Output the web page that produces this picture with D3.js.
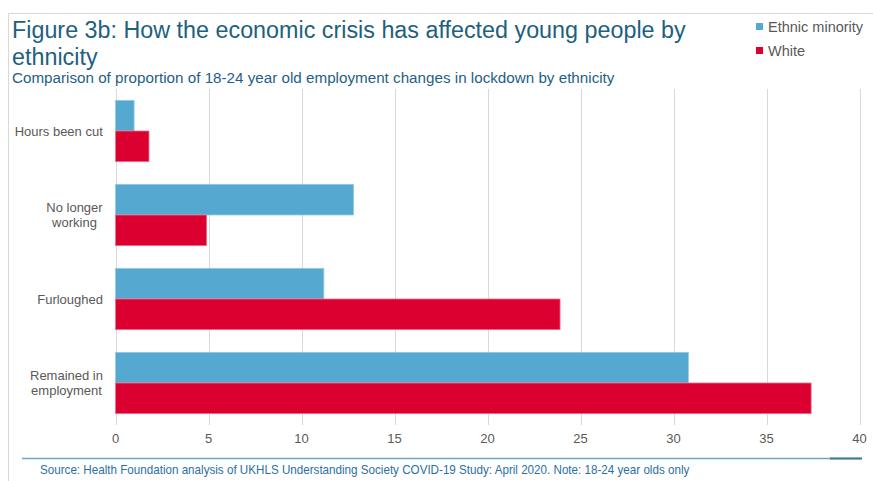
<!DOCTYPE html>
<html>
<head>
<meta charset="UTF-8">
<title>Figure 3b</title>
<style>
  body { margin: 0; background: #fff; }
  svg { display: block; }
  .narrow { font-family: "Liberation Sans", Arial, sans-serif; }
  .lab { font-family: "Liberation Sans", Arial, sans-serif; fill: #595959; }
</style>
</head>
<body>
<svg width="873" height="481"></svg>
<script src="https://cdn.jsdelivr.net/npm/d3@7"></script>
<script>
// data
const categories = ["Hours been cut", "No longer\nworking", "Furloughed", "Remained in\nemployment"];
const series = ["Ethnic minority", "White"];
const ethnicMinority = [1.0, 12.8, 11.2, 30.8];
const white = [1.8, 4.9, 23.9, 37.4];
const ticks = [0, 5, 10, 15, 20, 25, 30, 35, 40];
const colors = ["#55a8d0", "#dc0030"];

const svg = d3.select("svg");

// frame
svg.append("path").attr("d", "M8.5,481 V13.5 H873").attr("fill", "none")
  .attr("stroke", "#d9d9d9").attr("stroke-width", 1);

const x = d3.scaleLinear().domain([0, 40]).range([115.5, 859.5]);
const y = d3.scaleBand().domain(categories).range([89, 425])
  .paddingInner(0.27).paddingOuter(0.135);
const sub = d3.scaleBand().domain(series).range([0, y.bandwidth()]);

// grid
svg.append("g").selectAll("line").data(ticks).join("line")
  .attr("x1", d => Math.round(x(d)) + 0.5).attr("x2", d => Math.round(x(d)) + 0.5)
  .attr("y1", 89).attr("y2", 425)
  .attr("stroke", "#d9d9d9").attr("stroke-width", 1);

// bars
const rows = categories.map((c, i) => ({ c, vals: [ethnicMinority[i], white[i]] }));
svg.append("g").selectAll("g").data(rows).join("g")
  .attr("transform", d => `translate(0,${y(d.c)})`)
  .selectAll("rect").data(d => d.vals.map((v, j) => ({ v, s: series[j], j })))
  .join("rect")
  .attr("x", x(0))
  .attr("y", d => sub(d.s))
  .attr("width", d => x(d.v) - x(0))
  .attr("height", sub.bandwidth())
  .attr("fill", d => colors[d.j])
  .attr("stroke", d => d.j == 0 ? "#8fcbe6" : "#ee6f8a")
  .attr("stroke-width", 0.8);

// tick labels
svg.append("g").selectAll("text").data(ticks).join("text")
  .attr("class", "lab")
  .attr("x", d => x(d)).attr("y", 443)
  .attr("text-anchor", "middle").attr("font-size", 13)
  .text(d => d);

// category labels
const catG = svg.append("g");
categories.forEach(c => {
  const lines = c.split("\n");
  const cy = y(c) + y.bandwidth() / 2;
  const t = catG.append("text").attr("class", "lab").attr("font-size", 13)
    .attr("text-anchor", "middle");
  lines.forEach((l, i) => {
    t.append("tspan").attr("x", 0)
      .attr("y", cy + 4.5 + (i - (lines.length - 1) / 2) * 15)
      .text(l);
  });
  const w = t.node().getBBox().width;
  t.selectAll("tspan").attr("x", 103 - w / 2);
});

// condensed text, like Arial Narrow: squeeze glyphs horizontally to a target width
function narrowText(x0, y0, size, color, str, width, sx) {
  const t = svg.append("text").attr("class", "narrow")
    .attr("font-size", size).attr("fill", color).text(str);
  if (width) sx = width / t.node().getComputedTextLength();
  t.attr("transform", `translate(${x0},${y0}) scale(${sx},1)`);
  return sx;
}

// title
const tsx = narrowText(12, 38, 24, "#215f7f", "Figure 3b: How the economic crisis has affected young people by", 674);
narrowText(12, 65, 24, "#215f7f", "ethnicity", null, tsx);
narrowText(12, 83, 15, "#1f5f86", "Comparison of proportion of 18-24 year old employment changes in lockdown by ethnicity", 603);

// legend
const leg = svg.append("g");
series.forEach((s, i) => {
  leg.append("rect").attr("x", 756).attr("y", 23 + i * 24).attr("width", 7).attr("height", 7)
    .attr("fill", colors[i]);
  leg.append("text").attr("class", "lab").attr("x", 768).attr("y", 32 + i * 24)
    .attr("font-size", 14.5).text(s);
});

// bottom rule and source
svg.append("line").attr("x1", 22).attr("x2", 862).attr("y1", 458.5).attr("y2", 458.5)
  .attr("stroke", "#6ea6c0").attr("stroke-width", 1.5);
svg.append("line").attr("x1", 830).attr("x2", 862).attr("y1", 458.5).attr("y2", 458.5)
  .attr("stroke", "#3d7b9a").attr("stroke-width", 2);
narrowText(40, 474, 12, "#2b6fa3",
  "Source: Health Foundation analysis of UKHLS Understanding Society COVID-19 Study: April 2020. Note: 18-24 year olds only", 650);
</script>
</body>
</html>
